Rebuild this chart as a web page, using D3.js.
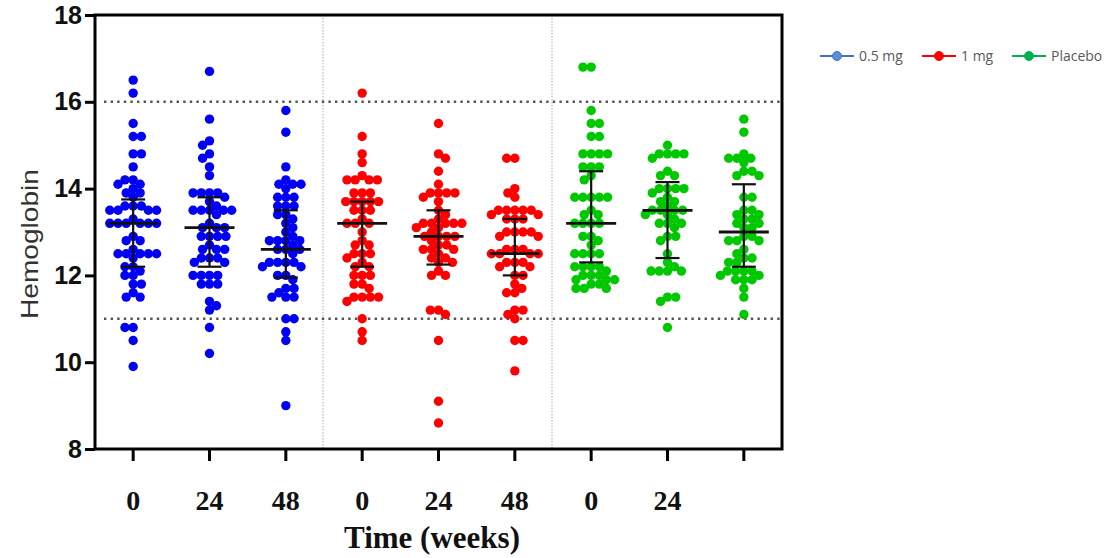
<!DOCTYPE html>
<meta charset="utf-8">
<style>
body { margin: 0; background: #fff; }
.axis path, .axis line { stroke: #000; stroke-width: 3; }
.yaxis text { font: bold 25px "Liberation Sans", Arial, sans-serif; fill: #111; }
.xaxis text { font: bold 28px "Liberation Serif", "Times New Roman", serif; fill: #111; }
.legend text { font: 14px "Open Sans", sans-serif; fill: #595959; }
</style>
<body>
<script src="https://d3js.org/d3.v7.min.js"></script>
<script>
// groups along the x axis
var groups = ["b0", "b24", "b48", "r0", "r24", "r48", "g0", "g24", "g48"];
var tickLabels = ["0", "24", "48", "0", "24", "48", "0", "24", ""];
var groupColor = ["#0000f5", "#0000f5", "#0000f5", "#ff0000", "#ff0000", "#ff0000", "#00c800", "#00c800", "#00c800"];

// hemoglobin values
var b0 = [16.5, 16.2, 15.5, 15.2, 15.2, 14.8, 14.8, 14.5, 14.2, 14.2, 14.1, 14.1, 14.0, 13.9, 13.9, 13.8, 13.6, 13.6, 13.6, 13.5, 13.5, 13.5, 13.5, 13.3, 13.2, 13.2, 13.2, 13.2, 13.2, 13.2, 12.9, 12.8, 12.8, 12.6, 12.5, 12.5, 12.5, 12.5, 12.5, 12.4, 12.2, 12.2, 12.1, 12.0, 12.0, 11.8, 11.8, 11.6, 11.5, 11.5, 10.8, 10.8, 10.5, 9.9];
var b24 = [16.7, 15.6, 15.1, 15.0, 14.8, 14.7, 14.5, 14.3, 13.9, 13.9, 13.9, 13.9, 13.8, 13.7, 13.6, 13.5, 13.5, 13.5, 13.5, 13.5, 13.4, 13.2, 13.1, 13.1, 13.1, 12.9, 12.9, 12.9, 12.9, 12.7, 12.6, 12.6, 12.6, 12.4, 12.4, 12.4, 12.3, 12.3, 12.0, 12.0, 12.0, 12.0, 11.8, 11.8, 11.8, 11.4, 11.3, 11.2, 10.8, 10.2];
var b48 = [15.8, 15.3, 14.5, 14.2, 14.1, 14.1, 14.1, 14.0, 13.8, 13.8, 13.8, 13.6, 13.6, 13.6, 13.4, 13.4, 13.3, 13.2, 13.1, 13.0, 12.9, 12.8, 12.8, 12.8, 12.8, 12.7, 12.6, 12.6, 12.6, 12.5, 12.3, 12.3, 12.3, 12.3, 12.2, 12.2, 12.0, 12.0, 11.9, 11.7, 11.7, 11.6, 11.5, 11.5, 11.5, 11.0, 11.0, 10.7, 10.5, 9.0];
var r0 = [16.2, 15.2, 14.8, 14.6, 14.3, 14.2, 14.2, 14.2, 14.2, 13.9, 13.9, 13.9, 13.7, 13.7, 13.7, 13.7, 13.7, 13.5, 13.5, 13.5, 13.3, 13.2, 13.2, 13.2, 13.0, 12.8, 12.7, 12.7, 12.5, 12.5, 12.5, 12.4, 12.3, 12.2, 12.2, 12.0, 12.0, 12.0, 11.8, 11.8, 11.7, 11.5, 11.5, 11.5, 11.5, 11.4, 11.0, 10.7, 10.5];
var r24 = [15.5, 14.8, 14.7, 14.4, 14.1, 13.9, 13.9, 13.9, 13.9, 13.8, 13.7, 13.5, 13.4, 13.3, 13.2, 13.2, 13.2, 13.2, 13.2, 13.1, 13.1, 13.0, 12.9, 12.9, 12.9, 12.9, 12.8, 12.7, 12.7, 12.6, 12.6, 12.6, 12.5, 12.4, 12.4, 12.3, 12.3, 12.1, 12.0, 12.0, 11.2, 11.2, 11.1, 10.5, 9.1, 8.6];
var r48 = [14.7, 14.7, 14.0, 13.9, 13.8, 13.5, 13.5, 13.5, 13.5, 13.5, 13.4, 13.4, 13.3, 13.3, 13.3, 13.0, 13.0, 13.0, 13.0, 12.9, 12.9, 12.6, 12.6, 12.6, 12.5, 12.5, 12.5, 12.5, 12.3, 12.3, 12.3, 12.2, 12.2, 12.0, 12.0, 11.8, 11.7, 11.6, 11.6, 11.2, 11.2, 11.1, 11.0, 10.5, 10.5, 9.8];
var g0 = [16.8, 16.8, 15.8, 15.5, 15.5, 15.2, 15.2, 14.8, 14.8, 14.8, 14.8, 14.5, 14.5, 14.5, 14.3, 14.2, 13.8, 13.8, 13.8, 13.8, 13.8, 13.5, 13.4, 13.4, 13.2, 13.2, 13.2, 13.2, 12.9, 12.9, 12.8, 12.7, 12.5, 12.5, 12.5, 12.5, 12.2, 12.2, 12.2, 12.2, 12.1, 12.0, 12.0, 12.0, 11.9, 11.9, 11.9, 11.8, 11.8, 11.7, 11.7, 11.7];
var g24 = [15.0, 14.8, 14.8, 14.8, 14.8, 14.7, 14.4, 14.3, 14.3, 14.0, 14.0, 14.0, 14.0, 13.9, 13.8, 13.7, 13.7, 13.6, 13.5, 13.5, 13.5, 13.5, 13.4, 13.4, 13.3, 13.2, 13.2, 13.2, 13.1, 12.9, 12.9, 12.8, 12.5, 12.3, 12.2, 12.1, 12.1, 12.1, 12.1, 11.5, 11.5, 11.4, 10.8];
var g48 = [15.6, 15.3, 14.8, 14.7, 14.7, 14.7, 14.6, 14.4, 14.4, 14.3, 14.3, 13.8, 13.8, 13.5, 13.5, 13.4, 13.4, 13.3, 13.3, 13.2, 13.2, 13.1, 13.1, 12.9, 12.9, 12.8, 12.8, 12.8, 12.6, 12.5, 12.4, 12.4, 12.3, 12.3, 12.1, 12.1, 12.1, 12.1, 12.0, 12.0, 11.9, 11.9, 11.9, 11.7, 11.5, 11.1];

// centre line and error bar ends, as drawn in the picture
var centre = [13.2, 13.1, 12.6, 13.2, 12.9, 12.5, 13.2, 13.5, 13.0];
var barHi = [13.75, 13.8, 13.5, 13.7, 13.5, 13.3, 14.4, 14.15, 14.1];
var barLo = [12.2, 12.2, 11.95, 12.2, 12.25, 12.0, 12.3, 12.4, 12.2];

var series = [b0, b24, b48, r0, r24, r48, g0, g24, g48];

var legendNames = ["0.5 mg", "1 mg", "Placebo"];
var legendLine = ["#4472c4", "#ff0000", "#00b050"];
var legendDot = ["#5b8fd6", "#ff0000", "#00b050"];

var yTicks = [8, 10, 12, 14, 16, 18];
var refLines = [16, 11];

var W = 1107, H = 558;
var plotL = 95, plotR = 782, plotT = 15, plotB = 449;

var svg = d3.select("body").append("svg")
    .attr("width", W).attr("height", H);

var x = d3.scaleBand().domain(groups).range([plotL, plotR]);
var y = d3.scaleLinear().domain([8, 18]).range([plotB, plotT]);

// separators between treatments
svg.selectAll(".sep").data([3, 6]).enter().append("line")
    .attr("x1", function(d) { return x(groups[d]) - 1; })
    .attr("x2", function(d) { return x(groups[d]) - 1; })
    .attr("y1", plotT).attr("y2", plotB)
    .attr("stroke", "#c8c8c8").attr("stroke-width", 1.5)
    .attr("stroke-dasharray", "1.5,1.5");

// normal range lines
svg.selectAll(".ref").data(refLines).enter().append("line")
    .attr("x1", plotL + 9).attr("x2", plotR - 2)
    .attr("y1", function(d) { return y(d); })
    .attr("y2", function(d) { return y(d); })
    .attr("stroke", "#555").attr("stroke-width", 2.6)
    .attr("stroke-dasharray", "2.4,4.2");

// simple beeswarm per group (dots may touch a little, like the original)
var R = 4.7, RC = 4.1;
function swarm(vals) {
    var pts = vals.slice().sort(function(a, b) { return b - a; }).map(function(v) { return {v: v, py: y(v)}; });
    var placed = [];
    pts.forEach(function(p, i) {
        var cands = [0];
        var near = placed.filter(function(q) { return Math.abs(q.py - p.py) < 2 * RC; });
        near.forEach(function(q) {
            var w = Math.sqrt(4 * RC * RC - (q.py - p.py) * (q.py - p.py));
            cands.push(q.dx - w - 0.01, q.dx + w + 0.01);
        });
        cands.sort(function(a, b) {
            var d = Math.abs(a) - Math.abs(b);
            if (Math.abs(d) > 0.3) return d;
            return (i % 2 ? a - b : b - a);
        });
        for (var k = 0; k < cands.length; k++) {
            var c = cands[k];
            var ok = near.every(function(q) {
                var dx = q.dx - c, dy = q.py - p.py;
                return dx * dx + dy * dy >= 4 * RC * RC - 0.05;
            });
            if (ok) { p.dx = c; break; }
        }
        placed.push(p);
    });
    return placed;
}

series.forEach(function(vals, gi) {
    var cx = x(groups[gi]) + x.bandwidth() / 2;
    var pts = swarm(vals);
    svg.append("g").selectAll("circle").data(pts).enter().append("circle")
        .attr("cx", function(d) { return cx + d.dx; })
        .attr("cy", function(d) { return d.py; })
        .attr("r", R)
        .attr("fill", groupColor[gi]);
});

// mean and error bars
var bars = svg.append("g").attr("stroke", "#111").attr("fill", "none");
groups.forEach(function(g, gi) {
    var cx = x(g) + x.bandwidth() / 2;
    bars.append("line").attr("x1", cx).attr("x2", cx)
        .attr("y1", y(barHi[gi])).attr("y2", y(barLo[gi])).attr("stroke-width", 2.2);
    bars.append("line").attr("x1", cx - 12).attr("x2", cx + 12)
        .attr("y1", y(barHi[gi])).attr("y2", y(barHi[gi])).attr("stroke-width", 2.2);
    bars.append("line").attr("x1", cx - 12).attr("x2", cx + 12)
        .attr("y1", y(barLo[gi])).attr("y2", y(barLo[gi])).attr("stroke-width", 2.2);
    bars.append("line").attr("x1", cx - 25).attr("x2", cx + 25)
        .attr("y1", y(centre[gi])).attr("y2", y(centre[gi])).attr("stroke-width", 2.8);
});

// frame
svg.append("rect").attr("x", plotL).attr("y", plotT)
    .attr("width", plotR - plotL).attr("height", plotB - plotT)
    .attr("fill", "none").attr("stroke", "#000").attr("stroke-width", 3);

// axes
var yAxis = svg.append("g").attr("class", "axis yaxis")
    .attr("transform", "translate(" + plotL + ",0)")
    .call(d3.axisLeft(y).tickValues(yTicks).tickSize(10).tickPadding(3).tickSizeOuter(0));
yAxis.select(".domain").remove();

var xAxis = svg.append("g").attr("class", "axis xaxis")
    .attr("transform", "translate(0," + plotB + ")")
    .call(d3.axisBottom(x).tickFormat(function(d, i) { return tickLabels[i]; }).tickSize(12).tickPadding(29).tickSizeOuter(0));
xAxis.select(".domain").remove();

// axis titles
svg.append("text")
    .attr("transform", "translate(38," + ((plotT + plotB) / 2 + 12) + ") rotate(-90)")
    .attr("text-anchor", "middle")
    .attr("textLength", 150).attr("lengthAdjust", "spacingAndGlyphs")
    .style("font", "24px 'Liberation Sans', Arial, sans-serif").style("fill", "#333")
    .text("Hemoglobin");

svg.append("text")
    .attr("x", 432).attr("y", 548)
    .attr("text-anchor", "middle")
    .style("font", "bold 31px 'Liberation Serif', 'Times New Roman', serif").style("fill", "#111")
    .text("Time (weeks)");

// legend
var legX = [820, 922, 1012];
var leg = svg.append("g").attr("class", "legend");
legendNames.forEach(function(n, i) {
    var gx = legX[i];
    leg.append("line").attr("x1", gx).attr("x2", gx + 34)
        .attr("y1", 56).attr("y2", 56)
        .attr("stroke", legendLine[i]).attr("stroke-width", 2.2);
    leg.append("circle").attr("cx", gx + 17).attr("cy", 56).attr("r", 4.5)
        .attr("fill", legendDot[i]).attr("stroke", legendLine[i]).attr("stroke-width", 1);
    leg.append("text").attr("x", gx + 39).attr("y", 61).text(n);
});
</script>
</body>
